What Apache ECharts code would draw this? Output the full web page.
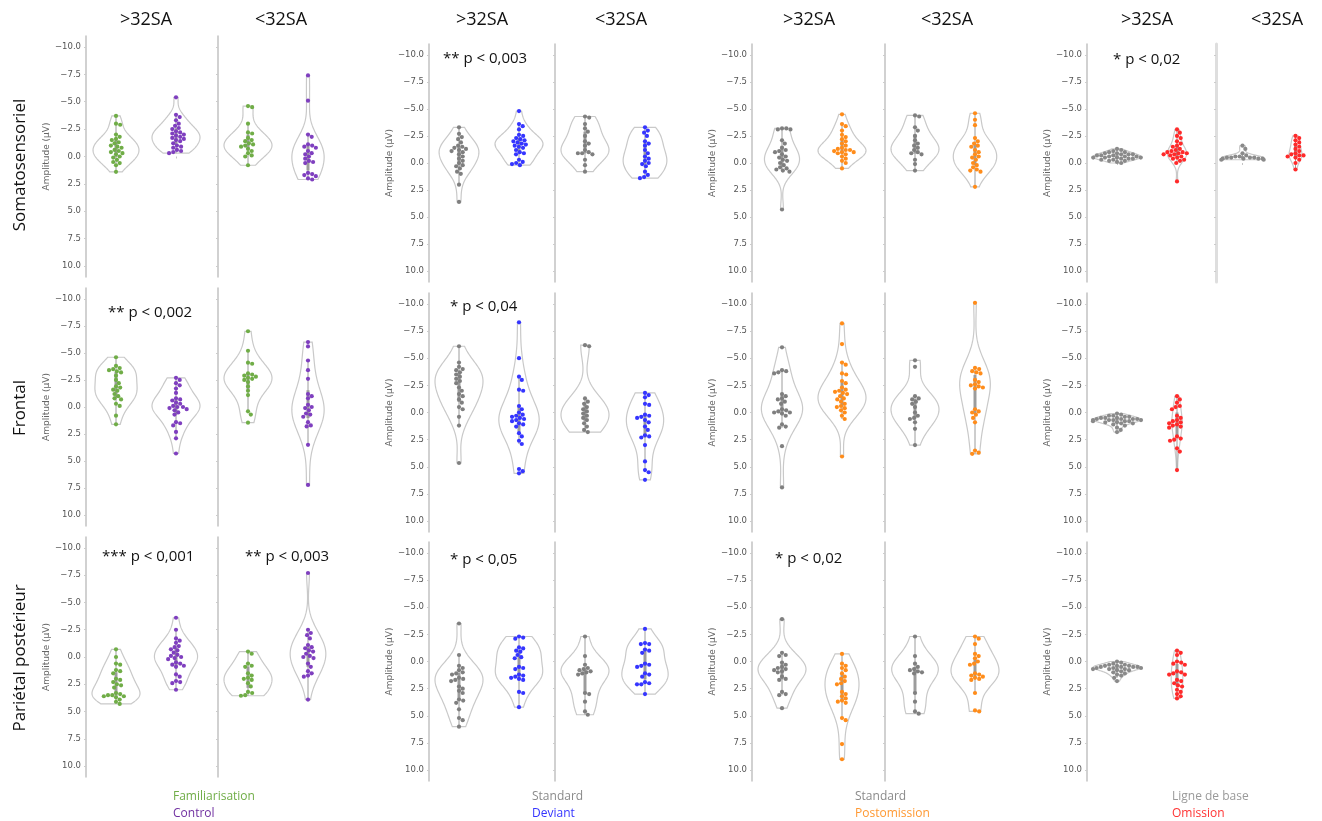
<!DOCTYPE html>
<html><head><meta charset="utf-8">
<script src="https://cdn.jsdelivr.net/npm/echarts@6/dist/echarts.min.js"></script>
<style>html,body{margin:0;padding:0;background:#fff}#c{width:1322px;height:821px}</style>
</head><body><div id="c"></div>
<script>
// ---------------- DATA (µV, values) ----------------
const yTickValues = [-10, -7.5, -5, -2.5, 0, 2.5, 5, 7.5, 10];
const ageGroups = ['>32SA', '<32SA'];
const rowTitles = ['Somatosensoriel', 'Frontal', 'Pariétal postérieur'];
const conditionLabels = [['Familiarisation', 'Control'], ['Standard', 'Deviant'], ['Standard', 'Postomission'], ['Ligne de base', 'Omission']];
const significance = [
  [0, 1, 0, '** p < 0,003'], [0, 3, 0, '* p < 0,02'],
  [1, 0, 0, '** p < 0,002'], [1, 1, 0, '* p < 0,04'],
  [2, 0, 0, '*** p < 0,001'], [2, 0, 1, '** p < 0,003'], [2, 1, 0, '* p < 0,05'], [2, 2, 0, '* p < 0,02']
];

// Row 1 — Somatosensoriel
const somato_gt_familiarisation = [-3.7, -3.0, -2.9, -2.0, -1.8, -1.6, -1.5, -1.3, -1.2, -1.0, -0.9, -0.8, -0.6, -0.5, -0.4, -0.3, -0.2, 0.0, 0.1, 0.3, 0.5, 0.6, 0.8, 1.4];
const somato_gt_control = [-5.4, -3.8, -3.6, -3.3, -3.0, -2.8, -2.6, -2.5, -2.3, -2.2, -2.1, -2.0, -1.9, -1.8, -1.7, -1.6, -1.5, -1.4, -1.2, -1.0, -0.9, -0.8, -0.6, -0.5, -0.4, -0.3];
const somato_lt_familiarisation = [-4.6, -4.5, -3.0, -2.2, -2.1, -1.7, -1.5, -1.4, -1.2, -1.1, -1.0, -0.9, -0.7, -0.5, -0.3, -0.1, 0.0, 0.8];
const somato_lt_control = [-7.4, -5.1, -2.0, -1.8, -1.1, -1.0, -0.9, -0.8, -0.5, -0.3, -0.2, 0.0, 0.2, 0.4, 0.5, 0.6, 1.5, 1.6, 1.7, 1.8, 2.0, 2.1];
const somato_gt_standardA = [-3.3, -2.7, -2.4, -2.2, -1.9, -1.6, -1.5, -1.4, -1.3, -1.2, -1.1, -1.0, -0.8, -0.6, -0.4, -0.2, 0.0, 0.2, 0.3, 0.5, 0.8, 1.0, 2.0, 3.6];
const somato_gt_deviant = [-4.8, -3.6, -3.4, -3.1, -2.6, -2.5, -2.3, -2.2, -2.1, -2.0, -1.9, -1.8, -1.7, -1.6, -1.5, -1.4, -1.2, -1.0, -0.9, -0.8, -0.3, -0.1, 0.0, 0.1, 0.2];
const somato_lt_standardA = [-4.3, -4.2, -3.6, -3.2, -2.9, -2.5, -2.0, -1.8, -1.6, -1.2, -1.0, -0.9, -0.9, -0.8, -0.3, 0.2, 0.8];
const somato_lt_deviant = [-3.3, -3.0, -2.8, -2.5, -2.0, -1.8, -1.6, -1.2, -0.9, -0.6, -0.4, -0.2, 0.0, 0.1, 0.3, 0.8, 1.1, 1.3, 1.4];
const somato_gt_standardB = [-3.2, -3.2, -3.1, -3.1, -2.1, -1.8, -1.4, -1.2, -1.1, -1.0, -0.8, -0.6, -0.5, -0.3, -0.2, 0.0, 0.2, 0.4, 0.5, 0.6, 0.7, 0.8, 4.3];
const somato_gt_postomission = [-4.5, -3.6, -3.4, -3.0, -2.6, -2.4, -2.2, -2.0, -1.8, -1.6, -1.4, -1.3, -1.2, -1.2, -1.1, -1.0, -1.0, -0.9, -0.8, -0.6, -0.4, -0.2, 0.0, 0.5];
const somato_lt_standardB = [-4.4, -4.3, -3.3, -3.0, -2.5, -2.1, -1.8, -1.6, -1.4, -1.2, -1.0, -0.9, -0.8, -0.3, 0.1, 0.7];
const somato_lt_postomission = [-4.6, -4.0, -3.5, -2.3, -2.0, -1.8, -1.6, -1.5, -1.2, -1.0, -0.8, -0.6, -0.5, -0.3, 0.0, 0.2, 0.4, 0.6, 0.7, 0.8, 2.2];
const somato_gt_baseline = [-1.3, -1.2, -1.1, -1.0, -1.0, -0.9, -0.9, -0.8, -0.8, -0.8, -0.7, -0.7, -0.7, -0.6, -0.6, -0.6, -0.5, -0.5, -0.5, -0.5, -0.4, -0.4, -0.4, -0.3, -0.3, -0.2, -0.2, -0.1, 0.0];
const somato_gt_omission = [-3.1, -2.8, -2.5, -2.3, -2.0, -1.8, -1.6, -1.5, -1.3, -1.2, -1.1, -1.0, -1.0, -0.9, -0.9, -0.8, -0.8, -0.7, -0.6, -0.5, -0.4, -0.3, -0.2, 0.0, 1.7];
const somato_lt_baseline = [-1.6, -1.3, -0.9, -0.7, -0.6, -0.6, -0.5, -0.5, -0.5, -0.5, -0.4, -0.4, -0.4, -0.4, -0.3, -0.3];
const somato_lt_omission = [-2.5, -2.3, -2.1, -1.9, -1.7, -1.5, -1.3, -1.1, -0.9, -0.8, -0.7, -0.7, -0.6, -0.5, -0.3, 0.0, 0.6];

// Row 2 — Frontal
const frontal_gt_familiarisation = [-4.6, -3.8, -3.6, -3.5, -3.4, -3.3, -3.2, -2.9, -2.5, -2.2, -1.9, -1.8, -1.6, -1.5, -1.2, -1.0, -0.8, -0.7, -0.3, -0.1, 0.8, 1.6];
const frontal_gt_control = [-2.7, -2.5, -2.2, -2.0, -1.7, -1.3, -0.8, -0.7, -0.6, -0.4, -0.3, -0.1, 0.0, 0.0, 0.1, 0.2, 0.3, 0.5, 0.7, 1.4, 1.5, 1.7, 2.3, 2.9, 4.3];
const frontal_lt_familiarisation = [-7.0, -5.2, -4.1, -4.0, -3.1, -3.0, -2.9, -2.8, -2.7, -2.6, -2.5, -2.3, -1.9, -1.5, -1.1, 0.4, 0.7, 1.45];
const frontal_lt_control = [-6.0, -5.6, -4.3, -3.4, -2.6, -1.2, -1.0, -0.8, -0.2, 0.0, 0.1, 0.3, 0.6, 0.7, 0.9, 1.4, 1.7, 1.8, 3.5, 7.2];
const frontal_gt_standardA = [-6.1, -4.6, -4.2, -4.0, -3.9, -3.7, -3.5, -3.3, -3.1, -2.9, -2.7, -2.3, -2.0, -1.7, -1.5, -1.2, -0.9, -0.5, -0.3, 0.4, 1.2, 4.65];
const frontal_gt_deviant = [-8.3, -5.0, -3.3, -3.0, -2.1, -2.0, -0.6, -0.3, 0.0, 0.2, 0.3, 0.4, 0.5, 0.6, 0.7, 0.8, 1.0, 1.1, 1.3, 1.9, 2.2, 2.6, 2.9, 5.2, 5.4, 5.6];
const frontal_lt_standardA = [-6.2, -6.1, -1.3, -1.0, -0.8, -0.5, -0.3, -0.1, 0.1, 0.3, 0.5, 0.7, 1.0, 1.3, 1.6, 1.8];
const frontal_lt_deviant = [-1.8, -1.6, -1.4, -0.8, -0.7, 0.2, 0.3, 0.4, 0.5, 0.7, 0.9, 1.3, 1.6, 2.1, 2.2, 2.3, 3.0, 4.5, 5.3, 5.5, 6.2];
const frontal_gt_standardB = [-6.0, -3.9, -3.8, -3.7, -3.6, -1.7, -1.5, -1.3, -1.2, -1.0, -0.8, -0.3, -0.2, -0.1, 0.0, 0.0, 0.1, 0.3, 1.1, 1.3, 1.4, 3.1, 6.9];
const frontal_gt_postomission = [-8.2, -6.3, -4.6, -4.4, -3.6, -3.5, -2.9, -2.7, -2.3, -2.1, -2.0, -1.9, -1.8, -1.7, -1.5, -1.3, -1.2, -1.0, -0.8, -0.6, -0.5, -0.4, -0.2, 0.0, 0.3, 0.6, 4.05];
const frontal_lt_standardB = [-4.8, -4.2, -1.5, -1.3, -1.2, -1.0, -0.8, -0.5, 0.0, 0.3, 0.5, 0.6, 0.9, 1.5, 3.0];
const frontal_lt_postomission = [-10.1, -4.1, -4.0, -3.8, -3.7, -3.6, -3.0, -2.8, -2.6, -2.5, -2.4, -2.3, -2.2, -0.3, -0.1, 0.0, 0.2, 0.5, 0.9, 3.5, 3.7, 3.8];
const frontal_gt_baseline = [0.1, 0.2, 0.3, 0.3, 0.4, 0.4, 0.5, 0.5, 0.5, 0.6, 0.6, 0.6, 0.6, 0.7, 0.7, 0.7, 0.7, 0.8, 0.8, 0.8, 0.9, 0.9, 1.0, 1.0, 1.1, 1.2, 1.4, 1.6, 1.8];
const frontal_gt_omission = [-1.5, -1.2, -0.9, -0.6, -0.5, -0.3, 0.3, 0.5, 0.7, 0.8, 0.9, 1.0, 1.1, 1.2, 1.3, 1.4, 2.2, 2.4, 2.5, 2.6, 3.3, 3.6, 5.3];

// Row 3 — Pariétal postérieur
const parietal_gt_familiarisation = [-0.7, 0.0, 0.6, 0.7, 1.2, 1.3, 1.5, 2.0, 2.1, 2.3, 2.5, 2.6, 2.8, 3.3, 3.4, 3.5, 3.5, 3.6, 3.6, 3.7, 3.9, 4.1, 4.3];
const parietal_gt_control = [-3.6, -2.5, -1.7, -1.5, -1.3, -1.0, -0.9, -0.7, -0.6, -0.4, -0.2, -0.1, 0.0, 0.1, 0.2, 0.5, 0.6, 0.7, 0.8, 0.9, 1.6, 1.8, 2.2, 2.3, 2.4, 3.0];
const parietal_lt_familiarisation = [-0.5, -0.3, 0.6, 0.8, 0.9, 1.5, 1.7, 1.9, 2.0, 2.1, 2.4, 2.7, 3.2, 3.3, 3.5, 3.55];
const parietal_lt_control = [-7.7, -2.5, -2.2, -2.0, -1.7, -1.1, -0.9, -0.8, -0.6, -0.5, -0.3, -0.1, 0.0, 0.1, 0.6, 0.9, 1.3, 1.5, 1.7, 1.8, 3.9];
const parietal_gt_standardA = [-3.5, -0.6, 0.4, 0.6, 0.8, 1.0, 1.1, 1.2, 1.5, 1.6, 1.7, 1.8, 2.3, 2.5, 2.7, 2.9, 3.5, 3.6, 3.8, 4.4, 5.2, 5.4, 6.0];
const parietal_gt_deviant = [-2.3, -2.2, -2.1, -1.3, -1.2, -1.0, -0.9, -0.6, -0.4, -0.3, 0.5, 0.6, 0.7, 1.2, 1.3, 1.4, 1.5, 1.6, 1.7, 2.8, 2.9, 4.2];
const parietal_lt_standardA = [-2.3, -0.5, 0.3, 0.6, 0.7, 0.8, 0.9, 1.0, 1.1, 1.2, 2.9, 3.0, 3.7, 4.6, 4.9];
const parietal_lt_deviant = [-3.0, -1.7, -1.6, -1.6, -1.1, -1.0, -0.8, 0.2, 0.3, 0.4, 0.5, 1.1, 1.2, 1.4, 1.9, 2.0, 2.1, 2.1, 3.0];
const parietal_gt_standardB = [-3.9, -0.8, -0.6, -0.5, 0.1, 0.3, 0.5, 0.6, 0.7, 0.8, 0.9, 1.0, 1.4, 1.6, 1.7, 2.8, 3.0, 3.1, 4.3];
const parietal_gt_postomission = [-0.7, 0.2, 0.4, 0.6, 0.8, 1.1, 1.4, 1.6, 1.8, 2.0, 2.1, 2.8, 3.0, 3.2, 3.4, 3.6, 3.7, 3.8, 5.2, 5.4, 7.6, 9.0];
const parietal_lt_standardB = [-2.3, -0.5, 0.2, 0.5, 0.7, 0.8, 0.9, 1.0, 1.1, 2.9, 3.7, 4.6, 4.8];
const parietal_lt_postomission = [-2.3, -2.1, -1.6, -0.7, -0.5, -0.3, 0.0, 0.2, 0.3, 1.1, 1.2, 1.3, 1.4, 1.5, 1.6, 1.7, 2.9, 4.5, 4.6];
const parietal_gt_baseline = [0.0, 0.1, 0.2, 0.3, 0.3, 0.4, 0.4, 0.4, 0.5, 0.5, 0.5, 0.5, 0.6, 0.6, 0.6, 0.7, 0.7, 0.7, 0.8, 0.8, 0.9, 1.0, 1.1, 1.2, 1.3, 1.5, 1.8];
const parietal_gt_omission = [-1.0, -0.8, -0.6, 0.0, 0.1, 0.2, 0.3, 0.9, 1.0, 1.1, 1.2, 1.2, 1.7, 1.8, 2.0, 2.2, 2.3, 2.6, 2.8, 3.0, 3.2, 3.4];

// panel list: [row, group, ageGroup, first condition, second condition]
const panelData = [
  [0, 0, 0, somato_gt_familiarisation, somato_gt_control], [0, 0, 1, somato_lt_familiarisation, somato_lt_control],
  [0, 1, 0, somato_gt_standardA, somato_gt_deviant], [0, 1, 1, somato_lt_standardA, somato_lt_deviant],
  [0, 2, 0, somato_gt_standardB, somato_gt_postomission], [0, 2, 1, somato_lt_standardB, somato_lt_postomission],
  [0, 3, 0, somato_gt_baseline, somato_gt_omission], [0, 3, 1, somato_lt_baseline, somato_lt_omission],
  [1, 0, 0, frontal_gt_familiarisation, frontal_gt_control], [1, 0, 1, frontal_lt_familiarisation, frontal_lt_control],
  [1, 1, 0, frontal_gt_standardA, frontal_gt_deviant], [1, 1, 1, frontal_lt_standardA, frontal_lt_deviant],
  [1, 2, 0, frontal_gt_standardB, frontal_gt_postomission], [1, 2, 1, frontal_lt_standardB, frontal_lt_postomission],
  [1, 3, 0, frontal_gt_baseline, frontal_gt_omission],
  [2, 0, 0, parietal_gt_familiarisation, parietal_gt_control], [2, 0, 1, parietal_lt_familiarisation, parietal_lt_control],
  [2, 1, 0, parietal_gt_standardA, parietal_gt_deviant], [2, 1, 1, parietal_lt_standardA, parietal_lt_deviant],
  [2, 2, 0, parietal_gt_standardB, parietal_gt_postomission], [2, 2, 1, parietal_lt_standardB, parietal_lt_postomission],
  [2, 3, 0, parietal_gt_baseline, parietal_gt_omission]
];

// ---------------- STYLE / LAYOUT ----------------
const pointColors = [['#70ad47', '#7f3fbf'], ['#7f7f7f', '#3535ff'], ['#7f7f7f', '#ff8c1a'], ['#8a8a8a', '#ff2a2a']];
const labelColors = [['#70ad47', '#7030a0'], ['#8a8a8a', '#3535ff'], ['#8a8a8a', '#ff9933'], ['#9a9a9a', '#ff3333']];
const groupLefts = [[86, 218], [429, 555], [752, 885], [1087, 1216]];
const rowBoxesG1 = [[36, 241], [288, 238], [537, 240]];
const rowBoxesOther = [[44, 238], [293, 239], [542, 239]];
const PANEL_W = 120;
const colTitleX = [[146, 281], [482, 621], [809, 947], [1147, 1277]];
const sigPos = {'0-1-0': [443, 59], '0-3-0': [1113, 60], '1-0-0': [108, 313], '1-1-0': [450, 307],
  '2-0-0': [102, 557], '2-0-1': [245, 557], '2-1-0': [450, 560], '2-2-0': [775, 559]};
const legendPos = [[173, 797], [532, 797], [855, 797], [1172, 797]];
const R = 2.1, D = 4.3;

function percentile(sorted, p) {
  const idx = (sorted.length - 1) * p; const lo = Math.floor(idx), hi = Math.ceil(idx);
  return sorted[lo] + (sorted[hi] - sorted[lo]) * (idx - lo);
}
function kde(vals) {
  const n = vals.length;
  const mean = vals.reduce((a, b) => a + b, 0) / n;
  const sd = Math.sqrt(vals.reduce((a, b) => a + (b - mean) * (b - mean), 0) / (n - 1));
  const bw = sd * Math.pow(n, -0.2);
  const lo = Math.min(...vals), hi = Math.max(...vals);
  const pts = [];
  for (let i = 0; i < 100; i++) {
    const y = lo + (hi - lo) * i / 99; let d = 0;
    for (const v of vals) d += Math.exp(-0.5 * ((y - v) / bw) ** 2);
    pts.push([y, d / (n * bw * Math.sqrt(2 * Math.PI))]);
  }
  const s = vals.slice().sort((a, b) => a - b);
  const q1 = percentile(s, 0.25), q2 = percentile(s, 0.5), q3 = percentile(s, 0.75);
  const wl = 1.5 * (q3 - q1);
  const h1 = Math.min(...s.filter(v => v >= q1 - wl)), h2 = Math.max(...s.filter(v => v <= q3 + wl));
  return {pts, maxD: Math.max(...pts.map(p => p[1])), q1, q2, q3, h1, h2};
}
function swarm(ys, d, limit) {
  const order = ys.map((y, i) => i).sort((a, b) => ys[a] - ys[b]);
  const placed = []; const off = new Array(ys.length).fill(0);
  for (const i of order) {
    const y = ys[i];
    const neigh = placed.filter(p => Math.abs(p.y - y) < d);
    const cands = [0];
    for (const p of neigh) { const dx = Math.sqrt(d * d - (p.y - y) ** 2); cands.push(p.x + dx, p.x - dx); }
    cands.sort((a, b) => Math.abs(a) - Math.abs(b));
    let chosen = 0;
    for (const c of cands) {
      if (neigh.every(p => (p.x - c) ** 2 + (p.y - y) ** 2 >= d * d - 1e-6)) { chosen = c; break; }
    }
    placed.push({x: chosen, y});
    off[i] = Math.max(-limit, Math.min(limit, chosen));
  }
  return off;
}
const fmt = v => (v < 0 ? '\u2212' : '') + Math.abs(v).toFixed(1);

const grids = [], xAxes = [], yAxes = [], series = [];
const swarmCache = {};
panelData.forEach((pd, gi) => {
  const [row, grp, sub, A, B] = pd;
  const box = grp === 0 ? rowBoxesG1[row] : rowBoxesOther[row];
  grids.push({left: groupLefts[grp][sub], top: box[0], width: PANEL_W, height: box[1]});
  xAxes.push({type: 'category', gridIndex: gi, data: ['0', '1'], boundaryGap: true,
    axisLine: {show: false}, axisLabel: {show: false}, splitLine: {show: false},
    axisTick: {show: true, alignWithLabel: true, length: 2, lineStyle: {color: '#c4c4c4'}}});
  const thickSep = (grp === 3 && sub === 1);
  yAxes.push({type: 'value', gridIndex: gi, min: -11, max: 11, inverse: true,
    name: sub === 0 ? 'Amplitude (µV)' : '', nameLocation: 'middle', nameGap: 34, nameRotate: 90,
    nameTextStyle: {fontSize: 9, color: '#666', fontFamily: 'DejaVu Sans'},
    axisLine: {show: true, lineStyle: {color: thickSep ? '#dedede' : '#c2c2c2', width: thickSep ? 3 : 1.5}},
    axisTick: {show: true, customValues: yTickValues, length: 2, lineStyle: {color: '#cccccc'}},
    axisLabel: {show: sub === 0, customValues: yTickValues, formatter: fmt, fontSize: 8.5, color: '#555',
      fontFamily: 'DejaVu Sans', margin: 5},
    splitLine: {show: false}});
  const ks = [kde(A), kde(B)];
  const maxD = Math.max(ks[0].maxD, ks[1].maxD);
  [A, B].forEach((vals, c) => {
    const k = ks[c];
    series.push({type: 'custom', xAxisIndex: gi, yAxisIndex: gi, z: 1, silent: true,
      data: [[c, k.q2]],
      renderItem: (params, api) => {
        const cat = api.value(0);
        const bandW = api.size([1, 0])[0];
        const sc = 0.4 * bandW / maxD;
        const left = [], right = [];
        for (const [y, d] of k.pts) { const p = api.coord([cat, y]); left.push([p[0] - d * sc, p[1]]); right.push([p[0] + d * sc, p[1]]); }
        const poly = left.concat(right.reverse());
        const w1 = api.coord([cat, k.h1]), w2 = api.coord([cat, k.h2]);
        const b1 = api.coord([cat, k.q1]), b2 = api.coord([cat, k.q3]);
        return {type: 'group', children: [
          {type: 'polygon', shape: {points: poly}, style: {fill: '#ffffff', stroke: '#c9c9c9', lineWidth: 1.2}},
          {type: 'line', shape: {x1: w1[0], y1: w1[1], x2: w2[0], y2: w2[1]}, style: {stroke: '#9c9c9c', lineWidth: 1}},
          {type: 'line', shape: {x1: b1[0], y1: b1[1], x2: b2[0], y2: b2[1]}, style: {stroke: '#9c9c9c', lineWidth: 3}}
        ]};
      }});
    const color = pointColors[grp][c];
    series.push({type: 'custom', xAxisIndex: gi, yAxisIndex: gi, z: 3, silent: true,
      data: vals.map(v => [c, v]),
      renderItem: (params, api) => {
        const key = params.seriesIndex;
        if (!swarmCache[key]) {
          const ys = vals.map(v => api.coord([c, v])[1]);
          swarmCache[key] = swarm(ys, D, 0.4 * api.size([1, 0])[0]);
        }
        const p = api.coord([api.value(0), api.value(1)]);
        return {type: 'circle', shape: {cx: p[0] + swarmCache[key][params.dataIndex], cy: p[1], r: R},
          style: {fill: color}};
      }});
  });
});

const graphic = [];
colTitleX.forEach(pair => pair.forEach((x, s) => graphic.push({type: 'text', x, y: 20,
  style: {text: ageGroups[s], fill: '#111', font: '18px "Open Sans"', textAlign: 'center', textVerticalAlign: 'middle'}})));
const rowTitleY = [165, 408, 658];
rowTitles.forEach((t, i) => graphic.push({type: 'text', x: 20, y: rowTitleY[i], rotation: Math.PI / 2,
  style: {text: t, fill: '#111', font: '17px "Open Sans"', textAlign: 'center', textVerticalAlign: 'middle'}}));
significance.forEach(([r, g, s, t]) => {
  const pos = sigPos[r + '-' + g + '-' + s];
  graphic.push({type: 'text', x: pos[0], y: pos[1],
    style: {text: t, fill: '#111', font: '15px "Open Sans"', textAlign: 'left', textVerticalAlign: 'middle'}});
});
conditionLabels.forEach((pair, g) => pair.forEach((t, i) => graphic.push({type: 'text', x: legendPos[g][0], y: legendPos[g][1] + i * 17,
  style: {text: t, fill: labelColors[g][i], font: '12px "Open Sans"', textAlign: 'left', textVerticalAlign: 'middle'}})));

const chart = echarts.init(document.getElementById('c'), null, {renderer: 'canvas'});
chart.setOption({backgroundColor: '#ffffff', animation: false, grid: grids, xAxis: xAxes, yAxis: yAxes, series, graphic});
</script></body></html>
